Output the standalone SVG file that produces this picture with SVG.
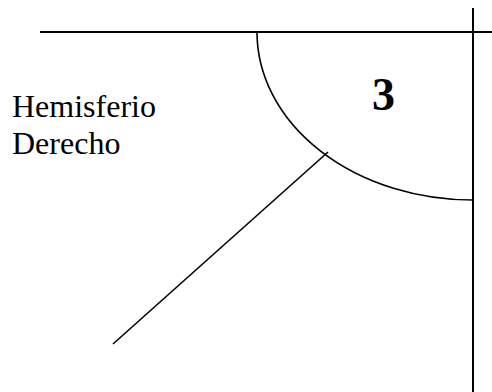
<svg xmlns="http://www.w3.org/2000/svg" width="492" height="392" viewBox="0 0 492 392">
<style>
.ln{stroke:#000;fill:none;stroke-width:2}
.arc{stroke:#000;fill:none;stroke-width:1.6}
.t{font-family:"Liberation Serif","Times New Roman",serif;fill:#000}
</style>
<rect width="492" height="392" fill="#fff"/>
<g id="axes">
<line class="ln" x1="40" y1="32" x2="492" y2="32"/>
<line class="ln" x1="473" y1="8" x2="473" y2="392"/>
</g>
<g id="quadrant">
<path class="arc" d="M257,32 A216,168 0 0 0 473,200"/>
</g>
<g id="connectors">
<line class="arc" x1="328" y1="152" x2="113" y2="344"/>
</g>
<g id="label-3">
<text class="t" x="372" y="110" font-size="46" font-weight="bold">3</text>
</g>
<g id="label-hemisferio">
<text class="t" x="12" y="117" font-size="32">Hemisferio</text>
<text class="t" x="12" y="154" font-size="32">Derecho</text>
</g>
</svg>
